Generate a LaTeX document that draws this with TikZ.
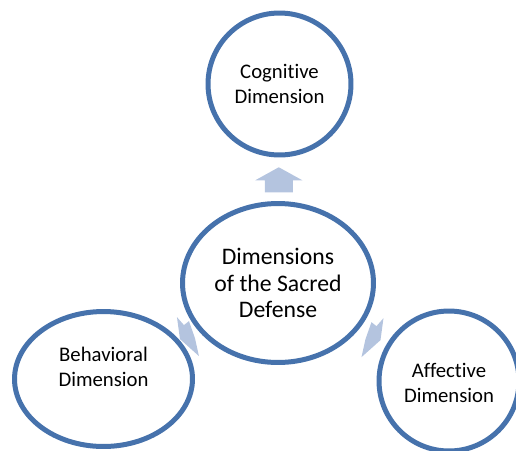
\documentclass[tikz,border=0pt]{standalone}
\usepackage{fontspec}
\setmainfont{Carlito}[Ligatures = NoCommon]
\usetikzlibrary{shapes.geometric}
\definecolor{ringblue}{RGB}{70,114,172}
\definecolor{flowblue}{RGB}{180,196,223}
\begin{document}
\begin{tikzpicture}[x = 0.02cm, y = -0.02cm,
		dim/.style = {ellipse, draw = ringblue, line width = 0.1cm, fill = white, inner sep = 0},
		smalltext/.style = {align = center, font = \fontsize{11.8}{14.2}\selectfont},
		bigtext/.style = {align = center, font = \fontsize{13.5}{15}\selectfont},
		flow/.style = {fill = flowblue, draw = none}]
	\clip (0, 0) rectangle (516, 450);
	% the four dimensions
	\node[dim, minimum width = 3.82cm, minimum height = 3.18cm] (centre) at (278, 283) {};
	\node[dim, minimum width = 2.86cm, minimum height = 2.84cm] (cognitive) at (279.5, 84) {};
	\node[dim, minimum width = 3.56cm, minimum height = 2.70cm] (behavioral) at (103.5, 379) {};
	\node[dim, minimum width = 2.80cm, minimum height = 2.80cm] (affective) at (449, 381) {};
	% texts
	\node[bigtext] (centre text) at (centre) {Dimensions\\of the Sacred\\Defense};
	\node[smalltext] (cognitive text) at (cognitive) {Cognitive\\Dimension};
	\node[smalltext] (behavioral text) at ([yshift = 0.24cm] behavioral) {Behavioral\\Dimension};
	\node[smalltext] (affective text) at ([yshift = -0.04cm] affective) {Affective\\Dimension};
	% the arrows between them
	\path (centre) -- coordinate[midway] (up flow) (cognitive);
	\path (centre) -- coordinate[midway] (right flow) (affective);
	\path (centre) -- coordinate[midway] (left flow) (behavioral);
	\fill[flow] ([shift = {(0, -12)}] up flow) -- ([shift = {(23.5, 1)}] up flow) -- ([shift = {(14, 1)}] up flow)
		-- ([shift = {(14, 13)}] up flow) -- ([shift = {(-14, 13)}] up flow) -- ([shift = {(-14, 1)}] up flow)
		-- ([shift = {(-23.5, 1)}] up flow) -- cycle;
	\fill[flow] ([shift = {(-1, -15)}] right flow) -- ([shift = {(4, -11)}] right flow) -- ([shift = {(11, -19)}] right flow)
		-- ([shift = {(8, 3)}] right flow) -- ([shift = {(-11, 20)}] right flow) -- ([shift = {(-7, 2)}] right flow) -- cycle;
	\fill[flow] ([shift = {(2, -12)}] left flow) -- ([shift = {(-3, -8)}] left flow) -- ([shift = {(-10, -16)}] left flow)
		-- ([shift = {(-7, 6)}] left flow) -- ([shift = {(12, 23)}] left flow) -- ([shift = {(8, 5)}] left flow) -- cycle;
\end{tikzpicture}
\end{document}
